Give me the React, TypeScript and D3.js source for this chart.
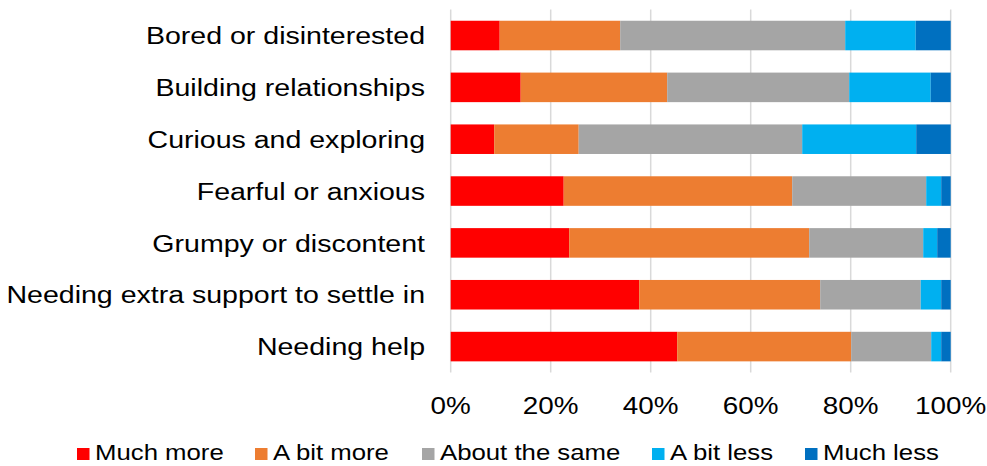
import * as d3 from "d3";

const categories = [
  "Bored or disinterested",
  "Building relationships",
  "Curious and exploring",
  "Fearful or anxious",
  "Grumpy or discontent",
  "Needing extra support to settle in",
  "Needing help",
];

const seriesNames = ["Much more", "A bit more", "About the same", "A bit less", "Much less"];
const seriesColors = ["#FF0000", "#ED7D31", "#A5A5A5", "#00B0F0", "#0070C0"];

const muchMore = [9.8, 14.0, 8.7, 22.6, 23.7, 37.7, 45.3];
const bitMore = [24.1, 29.3, 16.9, 45.7, 48.0, 36.2, 34.8];
const aboutSame = [45.0, 36.4, 44.7, 26.8, 22.8, 20.1, 16.0];
const bitLess = [14.1, 16.3, 22.8, 3.0, 2.8, 4.1, 2.0];
const muchLess = [7.0, 4.0, 6.9, 1.9, 2.7, 1.9, 1.9];

const xTicks = [0, 20, 40, 60, 80, 100];

const width = 987;
const height = 466;
const font = "Liberation Sans, Arial, Helvetica, sans-serif";
const sx = 1.16; // the reference text is stretched horizontally

const values = [muchMore, bitMore, aboutSame, bitLess, muchLess];
const rows = categories.map((c, i) => {
  const r: Record<string, number | string> = { category: c };
  seriesNames.forEach((s, j) => (r[s] = values[j][i]));
  return r;
});

export default function App() {
  const x = d3.scaleLinear().domain([0, 100]).range([450.7, 950.7]);
  const y = d3
    .scaleBand()
    .domain(categories)
    .range([9.6, 372.5])
    .paddingInner(0.43)
    .paddingOuter(0.215);

  const stacked = d3.stack<any>().keys(seriesNames)(rows);
  const [y0, y1] = y.range();

  // legend layout (square left edge for each entry)
  const legendX = [77, 255, 422, 652, 805];

  return (
    <svg
      width={width}
      height={height}
      style={{ position: "absolute", left: 0, top: 0, background: "#fff" }}
      fontFamily={font}
    >
      {/* gridlines */}
      {xTicks.map((t) => (
        <line
          key={t}
          x1={x(t)}
          x2={x(t)}
          y1={y0}
          y2={y1}
          stroke="#D9D9D9"
          strokeWidth={1.5}
        />
      ))}

      {/* bars */}
      {stacked.map((s, j) => (
        <g key={s.key} fill={seriesColors[j]}>
          {s.map((d, i) => (
            <rect
              key={i}
              x={x(d[0])}
              y={y(categories[i])}
              width={x(d[1]) - x(d[0])}
              height={y.bandwidth()}
            />
          ))}
        </g>
      ))}

      {/* category labels */}
      {categories.map((c) => (
        <text
          key={c}
          transform={`translate(425,${y(c)! + y.bandwidth() / 2 + 8.7}) scale(${sx},1)`}
          textAnchor="end"
          fontSize={24.6}
          fill="#000"
        >
          {c}
        </text>
      ))}

      {/* x tick labels */}
      {xTicks.map((t) => (
        <text
          key={t}
          transform={`translate(${x(t)},414) scale(${sx},1)`}
          textAnchor="middle"
          fontSize={24}
          fill="#000"
        >
          {t}%
        </text>
      ))}

      {/* legend */}
      {seriesNames.map((s, j) => (
        <g key={s}>
          <rect x={legendX[j]} y={448} width={12.5} height={12} fill={seriesColors[j]} />
          <text
            transform={`translate(${legendX[j] + 18},460) scale(${sx},1)`}
            fontSize={22.2}
            fill="#000"
          >
            {s}
          </text>
        </g>
      ))}
    </svg>
  );
}
